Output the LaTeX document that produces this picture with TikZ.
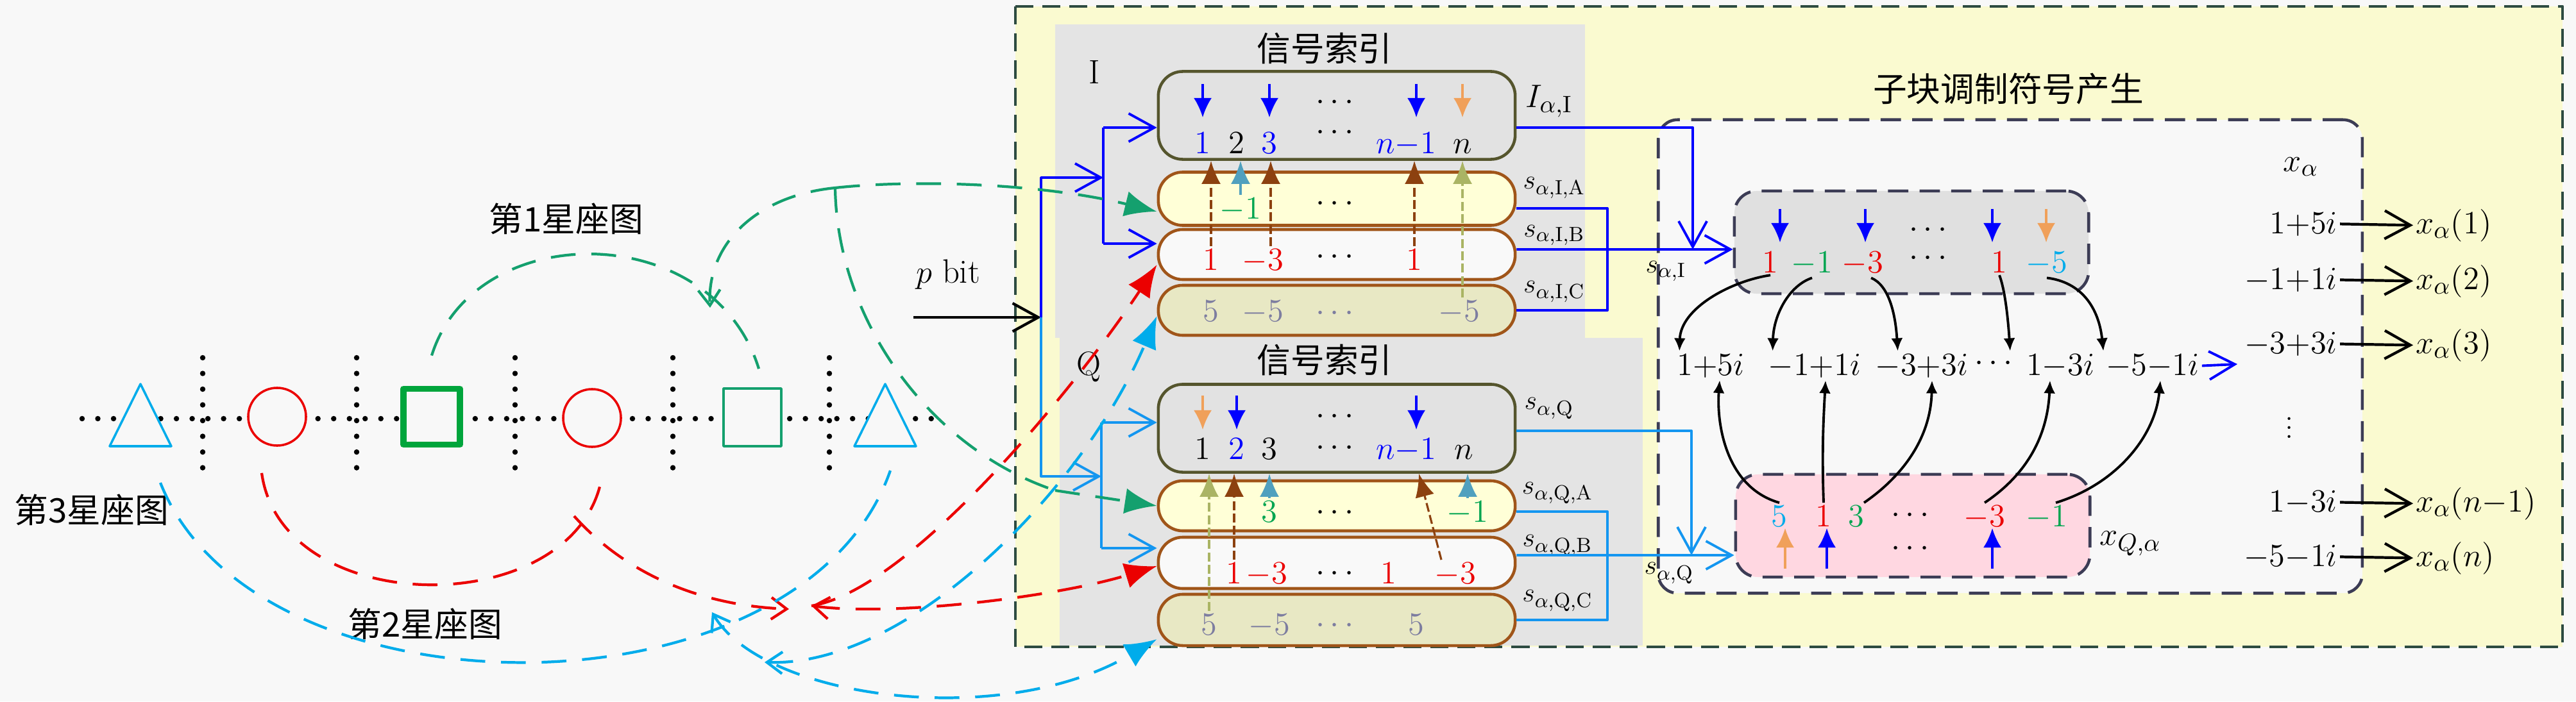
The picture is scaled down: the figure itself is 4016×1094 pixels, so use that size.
\documentclass[tikz,border=0pt]{standalone}
\usepackage{fontspec}
\newfontfamily\cjk{Noto Sans CJK SC}
\usetikzlibrary{arrows.meta}

\definecolor{bgc}{RGB}{248,248,248}
\definecolor{outyel}{RGB}{250,250,208}
\definecolor{outline}{RGB}{45,75,65}
\definecolor{panel}{RGB}{228,228,228}
\definecolor{idxfill}{RGB}{226,226,226}
\definecolor{idxline}{RGB}{85,85,45}
\definecolor{afill}{RGB}{255,255,215}
\definecolor{bfill}{RGB}{249,249,249}
\definecolor{cfill}{RGB}{232,232,196}
\definecolor{boxline}{RGB}{160,85,25}
\definecolor{myred}{RGB}{235,0,0}
\definecolor{numgreen}{RGB}{0,165,80}
\definecolor{sqgreen}{RGB}{0,165,60}
\definecolor{dgreen}{RGB}{20,160,110}
\definecolor{mycyan}{RGB}{0,172,235}
\definecolor{qblue}{RGB}{20,150,240}
\definecolor{orng}{RGB}{240,160,90}
\definecolor{brwn}{RGB}{140,65,15}
\definecolor{tealc}{RGB}{80,160,190}
\definecolor{olv}{RGB}{170,180,100}
\definecolor{cgray}{RGB}{125,125,160}
\definecolor{subline}{RGB}{60,60,85}
\definecolor{symgray}{RGB}{224,224,224}
\definecolor{sympink}{RGB}{255,215,225}

\tikzset{
  smb/.tip={Straight Barb[length=2.4mm,width=3.4mm]},
  bigT/.tip={Latex[length=5mm,width=4mm]},
  upT/.tip={Latex[length=3.6mm,width=3mm]},
  dnT/.tip={Latex[length=3mm,width=2.8mm]},
  smT/.tip={Latex[length=2mm,width=1.8mm]},
}

\begin{document}
\begin{tikzpicture}[x=0.01cm,y=-0.01cm,line join=round,
    font=\fontsize{15}{18}\selectfont,
    >={Straight Barb[length=4mm,width=4.4mm]},
    num/.style={inner sep=1pt,anchor=base},
    dotnode/.style={inner sep=1pt},
    lab/.style={inner sep=1pt,font=\fontsize{13}{15}\selectfont},
    pill/.style={draw=boxline,line width=1.3pt,rounded corners=0.38cm,minimum width=5.56cm,inner sep=0pt},
    idxbox/.style={pill,draw=idxline,fill=idxfill,minimum height=1.37cm},
    symbox/.style={draw=subline,line width=1.3pt,dash pattern=on 9pt off 5pt,rounded corners=0.35cm,minimum width=5.52cm,minimum height=1.6cm,inner sep=0pt},
    bl/.style={blue,line width=1.1pt},
    ql/.style={qblue,line width=1.1pt},
    dnarr/.style={line width=0.9pt,-dnT},
    uparr/.style={line width=0.9pt,-upT},
    updsh/.style={uparr,dash pattern=on 4pt off 1.5pt},
    cdsh/.style={line width=1.2pt,dash pattern=on 11pt off 7pt},
    dotrow/.style={line width=2.4pt,line cap=round,dash pattern=on 0pt off 0.245cm},
    bk/.style={line width=1.1pt,-smT},
  ]
  % backdrop
  \fill[bgc] (0,0) rectangle (4016,1094);
  \useasboundingbox (0,0) rectangle (4016,1094);

  % outer frame and the two panels
  \draw[outline,line width=1.2pt,dash pattern=on 8pt off 4pt,fill=outyel] (1583,10) rectangle (3995,1009);
  \fill[panel] (1645,38) rectangle (2471,527);
  \fill[panel] (1652,527) rectangle (2561,1007);
  \node (titI) at (2065,76) {\cjk 信号索引};
  \node (titQ) at (2065,562) {\cjk 信号索引};
  \node (labI) at (1706,112) {I};
  \node (labQ) at (1697,572) {Q};

  % sub-block frame
  \node[draw=subline,line width=1.3pt,dash pattern=on 9pt off 5pt,rounded corners=0.3cm,fill=bgc,
        minimum width=10.97cm,minimum height=7.38cm,inner sep=0pt] (sub) at (3134,556) {};
  \node (titS) at (3131,139) {\cjk 子块调制符号产生};
  \node[symbox,fill=symgray] (symI) at (2980,378) {};
  \node[symbox,fill=sympink] (symQ) at (2982,820) {};

  % constellation row
  \draw[dotrow] (128,653) -- (1474,653);
  \foreach \x in {316,556,803,1049,1293}
    \draw[dotrow] (\x,558) -- (\x,734);
  \draw[mycyan,line width=1pt,fill=bgc] (171,696) -- (219,599) -- (267,696) -- cycle;
  \draw[mycyan,line width=1pt,fill=bgc] (1332,696) -- (1380,599) -- (1428,696) -- cycle;
  \node[circle,draw=myred,line width=1pt,fill=bgc,minimum size=0.9cm,inner sep=0pt] (cA) at (432,650) {};
  \node[circle,draw=myred,line width=1pt,fill=bgc,minimum size=0.9cm,inner sep=0pt] (cB) at (923,652) {};
  \node[draw=sqgreen,line width=2.8pt,fill=bgc,minimum width=0.88cm,minimum height=0.87cm,inner sep=0pt] (qA) at (673,650) {};
  \node[draw=dgreen,line width=1pt,fill=bgc,minimum width=0.9cm,minimum height=0.9cm,inner sep=0pt] (qB) at (1173,651) {};
  \node (l1) at (883,341) {\cjk 第1星座图};
  \node (l3) at (143,795) {\cjk 第3星座图};
  \node (l2) at (663,973) {\cjk 第2星座图};

  % I branch
  \node[idxbox] (idxI) at (2084,180) {};
  \node[pill,fill=afill,minimum height=0.83cm] (aI) at (2084,310) {};
  \node[pill,fill=bfill,minimum height=0.78cm] (bI) at (2084,397) {};
  \node[pill,fill=cfill,minimum height=0.78cm] (cI) at (2084,484) {};
  \foreach \x/\col in {1875/blue,1979/blue,2208/blue,2280/orng}
    \draw[dnarr,color=\col] (\x,131) -- (\x,183);
  \node[dotnode] (iI0) at (2081,160) {$\cdots$};
  \node[num,blue] (iI1) at (1875,239) {$1$};
  \node[num] (iI2) at (1928,239) {$2$};
  \node[num,blue] (iI3) at (1979,239) {$3$};
  \node[dotnode] (iI4) at (2081,207) {$\cdots$};
  \node[num,blue] (iI5) at (2192,239) {$n{-}1$};
  \node[num] (iI6) at (2280,239) {$n$};
  \node[num,numgreen] (aI1) at (1934,341) {$-1$};
  \node[dotnode] (aI2) at (2081,318) {$\cdots$};
  \node[num,myred] (bI1) at (1888,421) {$1$};
  \node[num,myred] (bI2) at (1969,421) {$-3$};
  \node[dotnode] (bId) at (2081,401) {$\cdots$};
  \node[num,myred] (bI3) at (2205,421) {$1$};
  \node[num,cgray] (cI1) at (1888,501) {$5$};
  \node[num,cgray] (cI2) at (1969,501) {$-5$};
  \node[dotnode,cgray] (cId) at (2081,489) {$\cdots$};
  \node[num,cgray] (cI3) at (2275,501) {$-5$};
  \draw[updsh,brwn] (bI1.north) -- (bI1 |- idxI.south);
  \draw[uparr,tealc] (aI1.north) -- (aI1 |- idxI.south);
  \draw[updsh,brwn] ([xshift=0.12cm]bI2.north) -- ([xshift=0.12cm]bI2 |- idxI.south);
  \draw[updsh,brwn] (bI3.north) -- (bI3 |- idxI.south);
  \draw[updsh,olv] ([xshift=0.05cm]cI3.north) -- ([xshift=0.05cm]cI3 |- idxI.south);
  \node (lIdx) at (2415,158) {$I_{\alpha,\mathrm{I}}$};
  \node[lab] (lAI) at (2423,293) {$s_{\alpha,\mathrm{I},\mathrm{A}}$};
  \node[lab] (lBI) at (2423,367) {$s_{\alpha,\mathrm{I},\mathrm{B}}$};
  \node[lab] (lCI) at (2423,455) {$s_{\alpha,\mathrm{I},\mathrm{C}}$};

  % Q branch
  \node[idxbox] (idxQ) at (2084,668) {};
  \node[pill,fill=afill,minimum height=0.78cm] (aQ) at (2084,789) {};
  \node[pill,fill=bfill,minimum height=0.8cm] (bQ) at (2084,878) {};
  \node[pill,fill=cfill,minimum height=0.8cm] (cQ) at (2084,967) {};
  \foreach \x/\col in {1875/orng,1928/blue,2208/blue}
    \draw[dnarr,color=\col] (\x,617) -- (\x,670);
  \node[dotnode] (iQ0) at (2081,650) {$\cdots$};
  \node[num] (iQ1) at (1875,716) {$1$};
  \node[num,blue] (iQ2) at (1928,716) {$2$};
  \node[num] (iQ3) at (1979,716) {$3$};
  \node[dotnode] (iQ4) at (2081,699) {$\cdots$};
  \node[num,blue] (iQ5) at (2192,716) {$n{-}1$};
  \node[num] (iQ6) at (2282,716) {$n$};
  \node[num,numgreen] (aQ1) at (1979,814) {$3$};
  \node[dotnode] (aQd) at (2081,800) {$\cdots$};
  \node[num,numgreen] (aQ2) at (2288,814) {$-1$};
  \node[num,myred] (bQ1) at (1924,910) {$1$};
  \node[num,myred] (bQ2) at (1975,910) {$-3$};
  \node[dotnode] (bQd) at (2081,895) {$\cdots$};
  \node[num,myred] (bQ3) at (2165,910) {$1$};
  \node[num,myred] (bQ4) at (2269,910) {$-3$};
  \node[num,cgray] (cQ1) at (1885,990) {$5$};
  \node[num,cgray] (cQ2) at (1979,990) {$-5$};
  \node[dotnode,cgray] (cQd) at (2081,976) {$\cdots$};
  \node[num,cgray] (cQ3) at (2208,990) {$5$};
  \draw[updsh,olv] (cQ1.north) -- (cQ1 |- idxQ.south);
  \draw[updsh,brwn] (bQ1.north) -- (bQ1 |- idxQ.south);
  \draw[uparr,tealc] (aQ1.north) -- (aQ1 |- idxQ.south);
  \draw[updsh,brwn] ([xshift=-0.22cm]bQ4.north) -- ([xshift=0.2cm]iQ5 |- idxQ.south);
  \draw[uparr,tealc] (aQ2.north) -- (aQ2 |- idxQ.south);
  \node[lab] (lQ) at (2415,637) {$s_{\alpha,\mathrm{Q}}$};
  \node[lab] (lAQ) at (2428,769) {$s_{\alpha,\mathrm{Q},\mathrm{A}}$};
  \node[lab] (lBQ) at (2428,851) {$s_{\alpha,\mathrm{Q},\mathrm{B}}$};
  \node[lab] (lCQ) at (2428,937) {$s_{\alpha,\mathrm{Q},\mathrm{C}}$};

  % p bit input and distribution
  \coordinate (pin) at (1424,495);
  \coordinate (jP) at (1623,495);
  \coordinate (sI) at (1720,277);
  \coordinate (sQ) at (1717,743);
  \node (pbit) at (1478,428) {$p$ bit};
  \draw[line width=1.2pt,->] (pin) -- (jP);
  \draw[bl,->] (jP) |- (sI);
  \draw[bl] ([yshift=-0.19cm]idxI.west -| sI) -- ([yshift=0.17cm]bI.west -| sI);
  \draw[bl,->] ([yshift=-0.19cm]idxI.west -| sI) -- ([yshift=-0.19cm]idxI.west);
  \draw[bl,->] ([yshift=0.17cm]bI.west -| sI) -- ([yshift=0.17cm]bI.west);
  \draw[ql,->] (jP) |- (sQ);
  \draw[ql] ([yshift=0.09cm]idxQ.west -| sQ) -- ([yshift=0.23cm]bQ.west -| sQ);
  \draw[ql,->] ([yshift=0.09cm]idxQ.west -| sQ) -- ([yshift=0.09cm]idxQ.west);
  \draw[ql,->] ([yshift=0.23cm]bQ.west -| sQ) -- ([yshift=0.23cm]bQ.west);

  % outputs of the two branches
  \coordinate (jI) at (2639,389);
  \coordinate (busI) at (2506,389);
  \draw[bl,->] ([yshift=-0.19cm]idxI.east) -| (jI);
  \draw[bl] ([yshift=-0.15cm]aI.east) -| (cI.east -| busI) -- (cI.east);
  \draw[bl,->] ([yshift=0.08cm]bI.east) -- (busI -| symI.west);
  \coordinate (jQ) at (2637,866);
  \coordinate (busQ) at (2506,866);
  \draw[ql,->] ([yshift=-0.04cm]idxQ.east) -| (jQ);
  \draw[ql] ([yshift=-0.09cm]aQ.east) -| (cQ.east -| busQ) -- (cQ.east);
  \draw[ql,->] ([yshift=0.12cm]bQ.east) -- (busQ -| symQ.west);
  \node[lab] (lsI) at (2597,423) {$s_{\alpha,\mathrm{I}}$};
  \node[lab] (lsQ) at (2602,894) {$s_{\alpha,\mathrm{Q}}$};

  % symbol boxes
  \foreach \x/\col in {2775/blue,2908/blue,3106/blue,3190/orng}
    \draw[dnarr,color=\col] (\x,326) -- (\x,378);
  \node[dotnode] (sI0) at (3006,359) {$\cdots$};
  \node[num,myred] (sI1) at (2760,425) {$1$};
  \node[num,numgreen] (sI2) at (2825,425) {$-1$};
  \node[num,myred] (sI3) at (2904,425) {$-3$};
  \node[dotnode] (sI4) at (3006,403) {$\cdots$};
  \node[num,myred] (sI5) at (3117,425) {$1$};
  \node[num,mycyan] (sI6) at (3191,425) {$-5$};
  \foreach \x/\col in {2783/orng,2848/blue,3106/blue}
    \draw[dnarr,color=\col] (\x,887) -- (\x,824);
  \node[num,mycyan] (sQ1) at (2774,821) {$5$};
  \node[num,myred] (sQ2) at (2843,821) {$1$};
  \node[num,numgreen] (sQ3) at (2894,821) {$3$};
  \node[dotnode] (sQ4) at (2978,804) {$\cdots$};
  \node[num,myred] (sQ5) at (3094,821) {$-3$};
  \node[num,numgreen] (sQ6) at (3191,821) {$-1$};
  \node[dotnode] (sQ0) at (2978,856) {$\cdots$};
  \node (lxQ) at (3321,848) {$x_{Q,\alpha}$};

  % complex symbols
  \node[num] (c1) at (2667,585) {$1{+}5i$};
  \node[num] (c2) at (2829,585) {$-1{+}1i$};
  \node[num] (c3) at (2996,585) {$-3{+}3i$};
  \node[dotnode] (c4) at (3108,567) {$\cdots$};
  \node[num] (c5) at (3212,585) {$1{-}3i$};
  \node[num] (c6) at (3356,585) {$-5{-}1i$};
  \coordinate (cend) at (3488,568);
  \draw[bl,->] (c6.east) -- (cend);
  \draw[bk] (sI1.south) .. controls (2700,438) and (2620,480) .. ([xshift=0.08cm]c1.north west);
  \draw[bk] (sI2.south) .. controls (2790,445) and (2765,490) .. ([xshift=0.11cm]c2.north west);
  \draw[bk] ([xshift=0.13cm]sI3.south) .. controls (2945,445) and (2955,490) .. ([xshift=0.39cm]c3.north west);
  \draw[bk] (sI5.south) .. controls (3125,450) and (3130,490) .. ([xshift=-0.21cm]c5.north west);
  \draw[bk] (sI6.south) .. controls (3245,440) and (3272,480) .. (c6.north west);
  \draw[bk] (sQ1.north) .. controls (2690,760) and (2676,660) .. ([xshift=0.14cm]c1.south);
  \draw[bk] (sQ2.north) .. controls (2840,700) and (2843,650) .. ([xshift=0.17cm]c2.south);
  \draw[bk] ([xshift=0.12cm]sQ3.north) .. controls (2970,740) and (3010,680) .. ([xshift=0.16cm]c3.south);
  \draw[bk] (sQ5.north) .. controls (3160,740) and (3192,680) .. ([xshift=-0.16cm]c5.south);
  \draw[bk] ([xshift=0.14cm]sQ6.north) .. controls (3300,755) and (3360,680) .. ([xshift=0.12cm]c6.south);

  % mapping to x_alpha
  \node (lx) at (3587,260) {$x_\alpha$};
  \node[num,anchor=base east] (r1) at (3648,364) {$1{+}5i$};
  \node[num,anchor=base east] (r2) at (3648,451) {$-1{+}1i$};
  \node[num,anchor=base east] (r3) at (3648,551) {$-3{+}3i$};
  \node[dotnode] (rd) at (3569,657) {$\vdots$};
  \node[num,anchor=base east] (r4) at (3648,798) {$1{-}3i$};
  \node[num,anchor=base east] (r5) at (3648,883) {$-5{-}1i$};
  \node[num,anchor=base west] (o1) at (3762,364) {$x_\alpha(1)$};
  \node[num,anchor=base west] (o2) at (3762,451) {$x_\alpha(2)$};
  \node[num,anchor=base west] (o3) at (3762,551) {$x_\alpha(3)$};
  \node[num,anchor=base west] (o4) at (3762,798) {$x_\alpha(n{-}1)$};
  \node[num,anchor=base west] (o5) at (3762,883) {$x_\alpha(n)$};
  \foreach \k in {1,...,5}
    \draw[line width=1.2pt,->] (r\k.east) -- (o\k.west);

  % dashed links, constellation 1
  \coordinate (jg) at (1302,293);
  \coordinate (g2e) at (1107,480);
  \coordinate (gk) at (1645,765);
  \draw[cdsh,dgreen] ([yshift=0.47cm]qA.north) .. controls (740,340) and (1110,340) .. ([xshift=0.1cm,yshift=0.29cm]qB.north);
  \draw[cdsh,dgreen,-smb] (jg) .. controls (1180,305) and (1102,380) .. (g2e);
  \draw[cdsh,dgreen,-bigT] (jg) .. controls (1420,280) and (1620,285) .. ([yshift=-0.2cm]aI.west);
  \draw[cdsh,dgreen] (jg) .. controls (1305,500) and (1450,700) .. (gk);
  \draw[cdsh,dgreen,-bigT] (gk) -- (aQ.west);

  % dashed links, constellation 2
  \coordinate (r2s) at (895,805);
  \coordinate (jr) at (1230,950);
  \coordinate (jr2) at (1265,945);
  \draw[cdsh,myred] ([xshift=-0.24cm,yshift=-0.41cm]cA.south) .. controls (440,970) and (905,970) .. ([xshift=0.16cm,yshift=-0.41cm]cB.south);
  \draw[cdsh,myred,-smb] (r2s) .. controls (980,900) and (1100,945) .. (jr);
  \draw[cdsh,myred,-bigT] (jr2) .. controls (1420,920) and (1680,600) .. ([yshift=-0.16cm]bI.west);
  \draw[cdsh,myred,smb-bigT] (jr2) .. controls (1400,962) and (1650,930) .. ([yshift=-0.05cm]bQ.west);

  % dashed links, constellation 3
  \coordinate (c1s) at (250,753);
  \coordinate (c1e) at (1388,734);
  \coordinate (jc) at (1192,1033);
  \coordinate (c4s) at (1110,955);
  \draw[cdsh,mycyan] (c1s) .. controls (400,1130) and (1250,1130) .. (c1e);
  \draw[cdsh,mycyan,smb-bigT] (jc) .. controls (1420,1040) and (1690,760) .. ([yshift=-0.09cm]cI.west);
  \draw[cdsh,mycyan,smb-bigT] (c4s) .. controls (1190,1090) and (1560,1140) .. ([yshift=-0.3cm]cQ.west);
\end{tikzpicture}
\end{document}
